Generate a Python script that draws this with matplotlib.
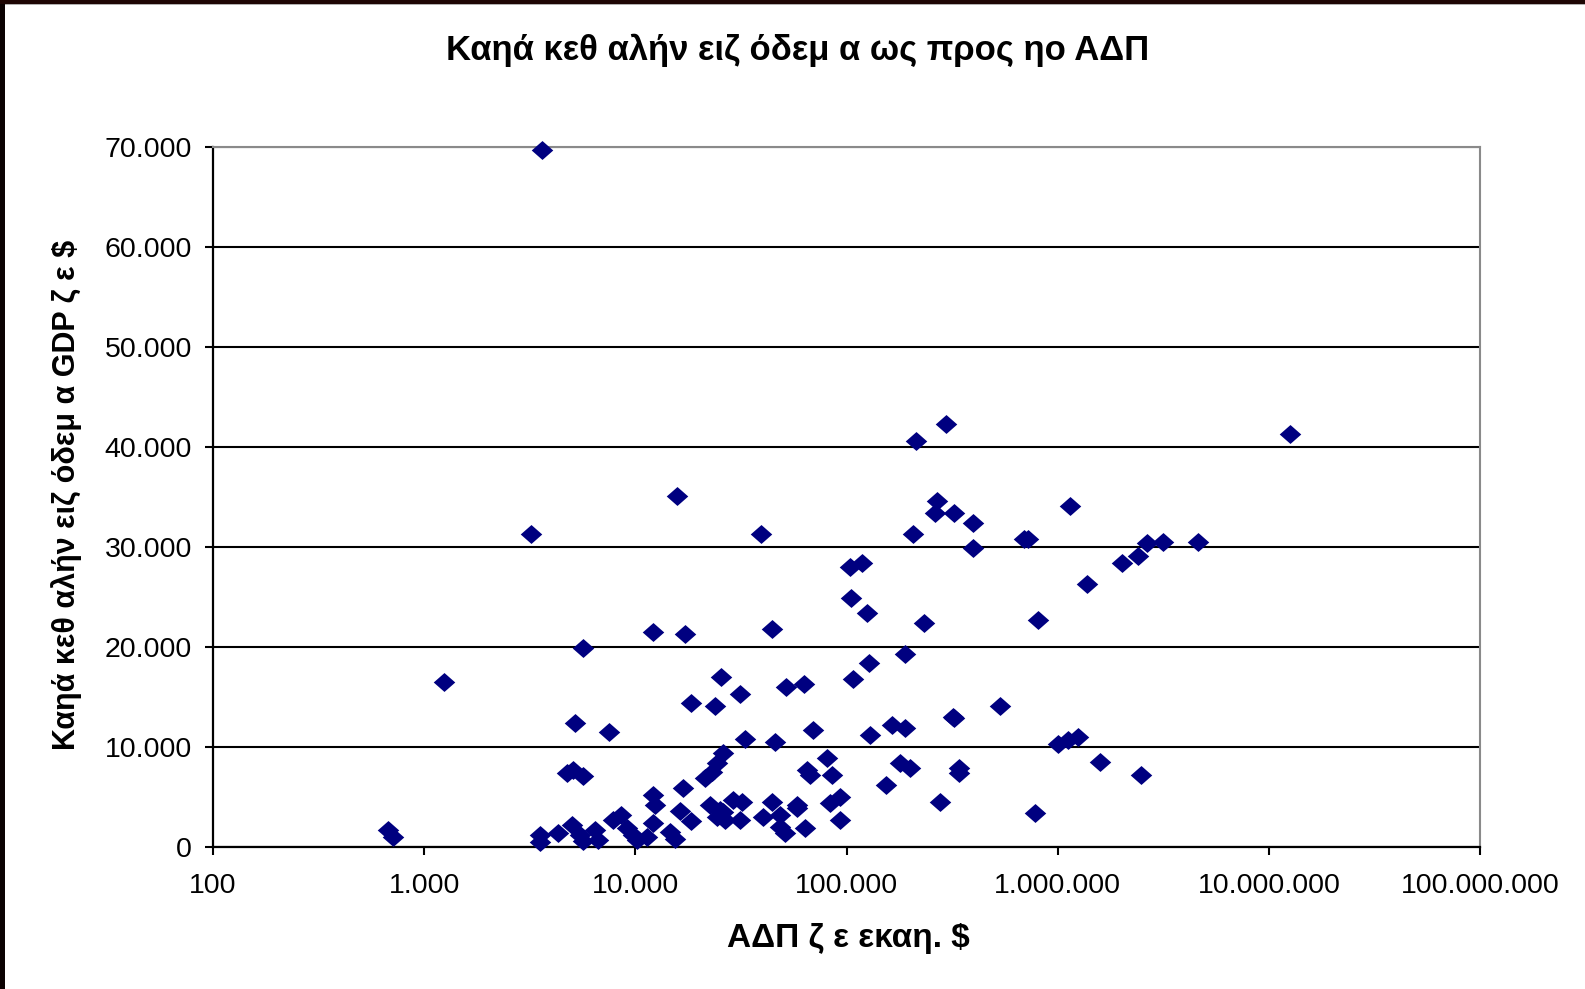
import matplotlib
matplotlib.use("Agg")
import matplotlib.pyplot as plt
import numpy as np
from matplotlib.path import Path
from matplotlib.patches import Rectangle
from matplotlib.ticker import FixedLocator, FuncFormatter, NullLocator

# GDP (million $) and GDP per capita ($) per country
gdp = [
    3600, 676, 714, 1239, 3205, 5626, 5176, 7520, 4730, 5080, 5626,
    3532, 3532, 4315, 4990, 5464, 5650, 6440, 6650, 7850, 8550, 9120,
    9750, 10180, 11360, 12160, 12400, 12160, 14600, 15400, 16270, 16750,
    18340, 21360, 22980, 24430, 26090, 22540, 25120, 24250, 26550, 29080,
    31870, 26060, 31250, 44160, 40360, 48390, 51060, 48390, 58060, 58060,
    63530, 83400, 93100, 93100, 33040, 45800, 69500, 129400, 163800,
    189300, 319900, 80540, 65190, 67140, 84990, 179000, 199500, 341800,
    341800, 153800, 276600, 780000, 1003000, 1117000, 1247000, 1585000,
    2477000, 15780, 39460, 103700, 118700, 105000, 124500, 12110, 17220,
    44350, 128200, 107600, 25350, 31170, 51490, 63060, 18330, 23900,
    213300, 294500, 12570000, 268800, 261300, 321400, 395500, 207000,
    395500, 1146000, 691800, 725000, 2636000, 3138000, 4627000, 2405000,
    2006000, 1371000, 232400, 803000, 189200, 530700, 321400,
]
gdp_per_capita = [
    69700, 1700, 970, 16470, 31270, 19870, 12370, 11470, 7430, 7700, 7100,
    1200, 530, 1430, 2200, 1200, 600, 1700, 700, 2700, 3200, 1900,
    1200, 700, 1000, 5200, 4200, 2430, 1530, 770, 3630, 5930,
    2630, 6870, 7500, 8370, 9370, 4200, 3700, 3030, 2700, 4700,
    4530, 3530, 2700, 4530, 3030, 3200, 1370, 2030, 4200, 3870,
    1870, 4370, 5030, 2700, 10770, 10530, 11700, 11200, 12200,
    11870, 13000, 8870, 7700, 7200, 7200, 8370, 7870, 7870,
    7370, 6200, 4530, 3370, 10300, 10700, 11000, 8530,
    7200, 35100, 31270, 28030, 28430, 24870, 23370, 21530, 21270,
    21770, 18430, 16770, 16970, 15300, 15970, 16270, 14370, 14100,
    40600, 42270, 41300, 34630, 33430, 33430, 32430, 31300,
    29870, 34130, 30800, 30800, 30370, 30530, 30530, 29100,
    28430, 26270, 22430, 22700, 19300, 14100, 12870,
]

x_ticks = [1e2, 1e3, 1e4, 1e5, 1e6, 1e7, 1e8]
y_ticks = [0, 10000, 20000, 30000, 40000, 50000, 60000, 70000]

title = "Καηά κεθ αλήν ειζ όδεμ α ως προς ηο ΑΔΠ"
y_label = "Καηά κεθ αλήν ειζ όδεμ α GDP ζ ε $"
x_label = "ΑΔΠ ζ ε εκαη. $"

plt.rcParams["font.family"] = ["Liberation Sans", "DejaVu Sans"]

W, H = 1585, 989
fig = plt.figure(figsize=(W / 100, H / 100), dpi=100)
fig.patch.set_facecolor("white")

# dark frame strips along the left and top edges
fig.patches.append(Rectangle((0, 0), 5 / W, 1, transform=fig.transFigure,
                             facecolor="#0b0202", edgecolor="none", zorder=0))
fig.patches.append(Rectangle((0, 1 - 4 / H), 1, 4 / H, transform=fig.transFigure,
                             facecolor="#1e0604", edgecolor="none", zorder=0))
fig.patches.append(Rectangle((5 / W, 1 - 5 / H), 1, 1 / H, transform=fig.transFigure,
                             facecolor="#b0b0b0", edgecolor="none", zorder=0))

left, right, top, bottom = 213, 1480, 147, 847
ax = fig.add_axes([left / W, 1 - bottom / H, (right - left) / W, (bottom - top) / H])

# flattened diamond marker
diamond = Path([(-1, 0), (0, 0.88), (1, 0), (0, -0.88), (-1, 0)],
               [Path.MOVETO, Path.LINETO, Path.LINETO, Path.LINETO, Path.CLOSEPOLY])
ax.scatter(gdp, gdp_per_capita, marker=diamond, s=15.5 ** 2, color="#000080",
           linewidths=0, zorder=3, clip_on=False)

ax.set_xscale("log")
ax.set_xlim(x_ticks[0], x_ticks[-1])
ax.set_ylim(y_ticks[0], y_ticks[-1])


def dotted(v, pos=None):
    return f"{int(round(v)):,}".replace(",", ".")


ax.xaxis.set_major_locator(FixedLocator(x_ticks))
ax.xaxis.set_minor_locator(NullLocator())
ax.xaxis.set_major_formatter(FuncFormatter(dotted))
ax.yaxis.set_major_locator(FixedLocator(y_ticks))
ax.yaxis.set_major_formatter(FuncFormatter(dotted))

ax.set_axisbelow(True)
ax.yaxis.grid(True, color="black", linewidth=1.5)
ax.xaxis.grid(False)

for side in ("top", "right"):
    ax.spines[side].set_color("#8a8a8a")
    ax.spines[side].set_linewidth(1.5)
for side in ("left", "bottom"):
    ax.spines[side].set_color("black")
    ax.spines[side].set_linewidth(1.6)

ax.tick_params(axis="both", direction="out", length=6, width=1.5, color="black",
               labelsize=20.5, labelcolor="black")
ax.tick_params(axis="y", pad=9)
ax.tick_params(axis="x", pad=13)

fig.text(798 / W, 1 - 50.5 / H, title, ha="center", va="center",
         fontsize=24.9, fontweight="bold", color="black")
fig.text(67 / W, 1 - 495 / H, y_label, ha="center", va="center", rotation=90,
         fontsize=22, fontweight="bold", color="black")
fig.text(848 / W, 1 - 938 / H, x_label, ha="center", va="center",
         fontsize=24, fontweight="bold", color="black")

fig.savefig("out.png", dpi=100, facecolor=fig.get_facecolor())
